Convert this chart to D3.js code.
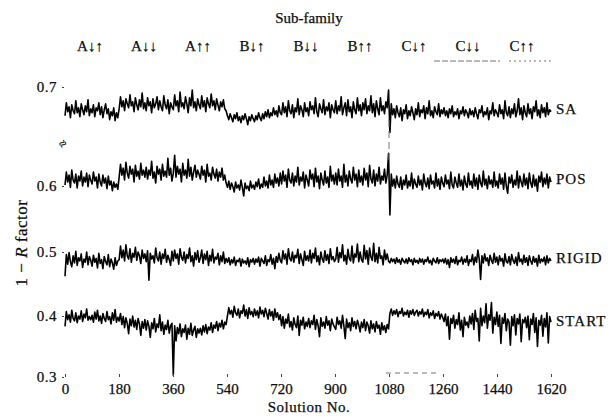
<!DOCTYPE html>
<html><head><meta charset="utf-8">
<script src="https://cdn.jsdelivr.net/npm/d3@7"></script>
<style>
body{margin:0;background:#fff}
svg{display:block}
text{font-family:"Liberation Serif","Times New Roman",serif;fill:#0d0d0d;stroke:#0d0d0d;stroke-width:0.25}
</style></head>
<body><svg id="chart" width="612" height="418"></svg>
<script>
const subFamilies = ["A↓↑","A↓↓","A↑↑","B↓↑","B↓↓","B↑↑","C↓↑","C↓↓","C↑↑"];
const xTicks = [0,180,360,540,720,900,1080,1260,1440,1620];
const yTicks = [0.3,0.4,0.5,0.6,0.7];
const seriesNames = ["SA","POS","RIGID","START"];

const saValues = [
0.671,0.684,0.675,0.680,0.669,0.682,0.676,0.673,0.686,0.674,0.679,0.670,0.683,0.677,0.672,0.681,0.675,0.687,0.671,0.678,
0.674,0.682,0.670,0.679,0.676,0.684,0.672,0.680,0.669,0.677,0.683,0.673,0.678,0.667,0.675,0.671,0.679,0.666,0.674,0.669,
0.678,0.690,0.680,0.686,0.676,0.688,0.683,0.679,0.692,0.681,0.685,0.675,0.689,0.682,0.677,0.687,0.680,0.694,0.678,0.684,
0.676,0.689,0.681,0.685,0.674,0.688,0.679,0.683,0.690,0.677,0.686,0.680,0.676,0.691,0.682,0.678,0.687,0.673,0.684,0.680,
0.677,0.692,0.681,0.686,0.675,0.695,0.680,0.684,0.678,0.690,0.683,0.674,0.689,0.681,0.697,0.679,0.685,0.676,0.688,0.682,
0.678,0.691,0.680,0.686,0.675,0.689,0.683,0.679,0.693,0.681,0.686,0.677,0.688,0.682,0.676,0.685,0.680,0.687,0.678,0.676,
0.671,0.667,0.673,0.669,0.665,0.672,0.668,0.674,0.666,0.670,0.664,0.671,0.667,0.673,0.668,0.662,0.670,0.666,0.672,0.668,
0.665,0.671,0.667,0.674,0.669,0.666,0.673,0.668,0.675,0.670,0.677,0.669,0.674,0.671,0.679,0.672,0.676,0.670,0.681,0.674,
0.672,0.684,0.674,0.680,0.670,0.686,0.676,0.673,0.682,0.669,0.679,0.675,0.688,0.672,0.681,0.677,0.670,0.684,0.675,0.679,
0.671,0.685,0.677,0.681,0.673,0.689,0.675,0.670,0.683,0.678,0.674,0.687,0.672,0.680,0.676,0.684,0.669,0.682,0.677,0.674,
0.686,0.673,0.681,0.676,0.690,0.672,0.679,0.684,0.671,0.687,0.675,0.680,0.669,0.685,0.677,0.673,0.689,0.676,0.682,0.671,
0.684,0.677,0.688,0.673,0.681,0.676,0.691,0.674,0.683,0.670,0.686,0.678,0.672,0.689,0.676,0.681,0.673,0.685,0.679,0.697,
0.654,0.683,0.672,0.678,0.669,0.681,0.674,0.670,0.679,0.666,0.677,0.673,0.682,0.668,0.676,0.671,0.680,0.674,0.667,0.678,
0.672,0.684,0.670,0.677,0.674,0.681,0.668,0.679,0.673,0.686,0.671,0.676,0.669,0.680,0.675,0.672,0.683,0.670,0.677,0.673,
0.679,0.671,0.676,0.669,0.678,0.673,0.681,0.670,0.675,0.672,0.678,0.668,0.676,0.673,0.680,0.671,0.677,0.674,0.669,0.678,
0.672,0.676,0.670,0.679,0.673,0.668,0.677,0.674,0.681,0.670,0.675,0.672,0.679,0.667,0.676,0.673,0.684,0.671,0.677,0.674,
0.670,0.682,0.673,0.677,0.668,0.686,0.674,0.671,0.680,0.669,0.678,0.673,0.683,0.670,0.676,0.688,0.672,0.679,0.667,0.681,
0.674,0.670,0.683,0.673,0.678,0.668,0.680,0.675,0.686,0.671,0.677,0.669,0.682,0.674,0.679,0.670,0.684,0.672,0.677,0.675];

const posValues = [
0.601,0.614,0.604,0.611,0.598,0.616,0.606,0.603,0.612,0.597,0.610,0.605,0.615,0.600,0.609,0.604,0.613,0.599,0.611,0.606,
0.602,0.614,0.605,0.609,0.597,0.612,0.604,0.600,0.611,0.603,0.608,0.596,0.610,0.601,0.605,0.593,0.604,0.598,0.602,0.595,
0.609,0.622,0.611,0.618,0.606,0.624,0.613,0.608,0.620,0.612,0.617,0.604,0.621,0.610,0.615,0.607,0.623,0.611,0.616,0.609,
0.619,0.607,0.616,0.611,0.625,0.608,0.614,0.603,0.620,0.612,0.617,0.606,0.622,0.610,0.615,0.609,0.628,0.611,0.618,0.605,
0.613,0.631,0.609,0.620,0.612,0.617,0.604,0.623,0.611,0.616,0.608,0.627,0.610,0.619,0.606,0.614,0.621,0.609,0.616,0.612,
0.607,0.620,0.611,0.616,0.604,0.622,0.610,0.613,0.606,0.619,0.612,0.608,0.617,0.605,0.614,0.609,0.618,0.606,0.611,0.603,
0.598,0.605,0.595,0.603,0.599,0.591,0.604,0.597,0.601,0.594,0.606,0.598,0.585,0.603,0.596,0.600,0.593,0.605,0.597,0.601,
0.595,0.604,0.599,0.607,0.596,0.602,0.598,0.609,0.600,0.605,0.597,0.611,0.601,0.606,0.598,0.612,0.603,0.608,0.600,0.613,
0.602,0.615,0.605,0.611,0.598,0.617,0.606,0.603,0.613,0.600,0.610,0.604,0.619,0.601,0.609,0.605,0.614,0.597,0.611,0.606,
0.600,0.616,0.607,0.612,0.599,0.618,0.604,0.610,0.596,0.613,0.606,0.601,0.615,0.603,0.609,0.598,0.620,0.605,0.611,0.602,
0.613,0.601,0.617,0.605,0.610,0.598,0.622,0.604,0.611,0.600,0.615,0.607,0.603,0.619,0.606,0.612,0.599,0.616,0.604,0.610,
0.601,0.618,0.606,0.613,0.599,0.621,0.607,0.603,0.616,0.600,0.612,0.605,0.619,0.602,0.610,0.606,0.617,0.603,0.611,0.633,
0.556,0.612,0.600,0.607,0.597,0.610,0.602,0.598,0.609,0.595,0.606,0.601,0.611,0.597,0.605,0.600,0.613,0.596,0.607,0.602,
0.598,0.610,0.601,0.606,0.594,0.612,0.603,0.599,0.608,0.596,0.611,0.602,0.605,0.597,0.613,0.600,0.607,0.595,0.609,0.603,
0.599,0.611,0.602,0.606,0.596,0.614,0.601,0.597,0.609,0.603,0.598,0.612,0.600,0.606,0.594,0.610,0.602,0.598,0.613,0.601,
0.605,0.597,0.612,0.600,0.608,0.595,0.611,0.603,0.599,0.615,0.601,0.607,0.596,0.610,0.602,0.606,0.598,0.614,0.600,0.605,
0.597,0.612,0.602,0.608,0.595,0.613,0.600,0.589,0.609,0.603,0.611,0.598,0.606,0.601,0.615,0.597,0.610,0.604,0.599,0.612,
0.601,0.608,0.596,0.613,0.603,0.598,0.611,0.600,0.607,0.592,0.610,0.604,0.614,0.599,0.608,0.602,0.612,0.597,0.609,0.604];

const rigidValues = [
0.462,0.496,0.481,0.499,0.485,0.477,0.494,0.483,0.501,0.479,0.491,0.486,0.497,0.476,0.489,0.484,0.500,0.480,0.493,0.487,
0.478,0.495,0.484,0.490,0.475,0.498,0.482,0.488,0.474,0.493,0.485,0.480,0.496,0.477,0.489,0.483,0.473,0.491,0.479,0.486,
0.488,0.509,0.491,0.503,0.486,0.511,0.494,0.489,0.505,0.484,0.498,0.492,0.507,0.487,0.500,0.494,0.482,0.503,0.490,0.497,
0.485,0.502,0.456,0.498,0.489,0.494,0.483,0.506,0.491,0.486,0.500,0.481,0.497,0.490,0.504,0.484,0.495,0.488,0.479,0.501,
0.486,0.503,0.490,0.497,0.481,0.505,0.492,0.487,0.500,0.483,0.496,0.490,0.506,0.485,0.494,0.478,0.499,0.488,0.502,0.484,
0.491,0.503,0.482,0.497,0.488,0.501,0.479,0.495,0.486,0.504,0.483,0.492,0.489,0.498,0.480,0.494,0.485,0.500,0.482,0.490,
0.484,0.491,0.480,0.488,0.483,0.492,0.479,0.487,0.485,0.490,0.478,0.489,0.483,0.486,0.481,0.491,0.477,0.488,0.484,0.490,
0.481,0.489,0.484,0.492,0.478,0.490,0.486,0.482,0.494,0.479,0.488,0.485,0.496,0.481,0.490,0.474,0.493,0.484,0.498,0.487,
0.483,0.502,0.489,0.497,0.481,0.505,0.490,0.486,0.500,0.484,0.495,0.491,0.504,0.482,0.497,0.488,0.479,0.501,0.487,0.494,
0.486,0.503,0.483,0.498,0.490,0.506,0.485,0.494,0.480,0.500,0.489,0.484,0.502,0.487,0.496,0.482,0.505,0.488,0.493,0.485,
0.489,0.507,0.484,0.499,0.491,0.511,0.486,0.495,0.481,0.504,0.490,0.486,0.509,0.483,0.497,0.492,0.512,0.485,0.500,0.488,
0.484,0.510,0.489,0.502,0.481,0.506,0.492,0.487,0.513,0.485,0.498,0.483,0.507,0.490,0.494,0.480,0.503,0.488,0.497,0.486,
0.483,0.490,0.485,0.489,0.482,0.491,0.484,0.488,0.481,0.490,0.486,0.483,0.489,0.482,0.491,0.485,0.488,0.480,0.490,0.484,
0.487,0.482,0.490,0.484,0.489,0.481,0.488,0.485,0.492,0.483,0.487,0.480,0.490,0.486,0.483,0.491,0.482,0.488,0.485,0.489,
0.483,0.490,0.481,0.488,0.476,0.491,0.484,0.489,0.482,0.493,0.480,0.487,0.485,0.492,0.481,0.489,0.484,0.494,0.479,0.488,
0.485,0.496,0.480,0.492,0.484,0.503,0.489,0.457,0.494,0.483,0.497,0.486,0.491,0.479,0.495,0.487,0.482,0.498,0.484,0.492,
0.480,0.494,0.486,0.490,0.478,0.497,0.485,0.483,0.493,0.480,0.496,0.487,0.482,0.492,0.479,0.499,0.485,0.489,0.481,0.495,
0.484,0.491,0.479,0.494,0.486,0.481,0.493,0.484,0.490,0.478,0.495,0.483,0.489,0.485,0.492,0.480,0.494,0.483,0.490,0.486];

const startValues = [
0.383,0.407,0.394,0.402,0.390,0.409,0.396,0.392,0.405,0.389,0.400,0.395,0.408,0.391,0.403,0.397,0.411,0.393,0.399,0.394,
0.401,0.390,0.406,0.395,0.409,0.392,0.400,0.388,0.404,0.396,0.391,0.407,0.394,0.399,0.387,0.405,0.393,0.410,0.390,0.398,
0.392,0.404,0.386,0.399,0.381,0.397,0.388,0.371,0.395,0.384,0.400,0.382,0.393,0.378,0.396,0.387,0.368,0.391,0.380,0.394,
0.377,0.392,0.383,0.365,0.389,0.379,0.396,0.374,0.387,0.381,0.402,0.376,0.390,0.370,0.385,0.378,0.393,0.372,0.384,0.388,
0.303,0.384,0.359,0.381,0.371,0.387,0.366,0.379,0.373,0.385,0.362,0.380,0.370,0.388,0.368,0.377,0.383,0.365,0.379,0.372,
0.380,0.369,0.384,0.374,0.386,0.371,0.382,0.377,0.389,0.373,0.385,0.380,0.391,0.376,0.388,0.382,0.393,0.379,0.390,0.386,
0.400,0.413,0.403,0.409,0.398,0.415,0.405,0.401,0.411,0.397,0.408,0.404,0.417,0.400,0.410,0.396,0.413,0.402,0.407,0.399,
0.411,0.401,0.408,0.397,0.414,0.403,0.409,0.399,0.412,0.404,0.395,0.410,0.400,0.407,0.393,0.411,0.398,0.405,0.394,0.402,
0.384,0.399,0.380,0.395,0.388,0.403,0.382,0.391,0.377,0.397,0.386,0.381,0.400,0.368,0.393,0.385,0.398,0.379,0.390,0.383,
0.396,0.381,0.392,0.386,0.401,0.378,0.394,0.384,0.366,0.397,0.383,0.390,0.380,0.399,0.385,0.392,0.376,0.395,0.387,0.382,
0.378,0.398,0.386,0.392,0.380,0.401,0.384,0.363,0.395,0.381,0.389,0.376,0.397,0.383,0.391,0.379,0.393,0.385,0.374,0.390,
0.381,0.394,0.376,0.390,0.384,0.372,0.392,0.379,0.387,0.374,0.391,0.380,0.385,0.370,0.389,0.377,0.384,0.373,0.386,0.379,
0.404,0.411,0.401,0.408,0.403,0.410,0.399,0.407,0.404,0.412,0.400,0.406,0.402,0.409,0.398,0.408,0.403,0.410,0.401,0.406,
0.409,0.400,0.407,0.403,0.411,0.399,0.406,0.402,0.410,0.397,0.405,0.401,0.408,0.396,0.404,0.400,0.407,0.395,0.403,0.398,
0.391,0.403,0.384,0.399,0.362,0.396,0.388,0.401,0.380,0.394,0.386,0.405,0.377,0.393,0.366,0.398,0.385,0.390,0.381,0.400,
0.387,0.404,0.378,0.409,0.391,0.396,0.359,0.412,0.384,0.400,0.389,0.419,0.380,0.402,0.393,0.421,0.372,0.398,0.386,0.406,
0.383,0.401,0.355,0.397,0.388,0.404,0.376,0.395,0.390,0.352,0.399,0.384,0.402,0.369,0.396,0.387,0.403,0.358,0.394,0.389,
0.398,0.381,0.400,0.361,0.395,0.386,0.404,0.373,0.397,0.350,0.393,0.385,0.401,0.367,0.396,0.382,0.405,0.356,0.399,0.390];

const seriesValues = [saValues, posValues, rigidValues, startValues];

const svg = d3.select("#chart");
const x = d3.scaleLinear().domain([0,1620]).range([65,551]);
// broken axis: 0.7 sits above a break, so the scale is piecewise
const y = d3.scaleLinear().domain([0.3,0.4,0.5,0.6,0.7]).range([377,316,252,186,87]);

const line = d3.line()
  .x((d,i,arr) => x(i * 1620 / (arr.length - 1)))
  .y(d => y(d));

svg.append("g").selectAll("path").data(seriesValues).join("path")
  .attr("d", d => line(d))
  .attr("fill","none").attr("stroke","#000").attr("stroke-width",1.6)
  .attr("stroke-linejoin","round");

// series labels
svg.append("g").selectAll("text").data(seriesNames).join("text")
  .attr("x", x(1620) + 5)
  .attr("y", (d,i) => y(d3.mean(seriesValues[i])))
  .attr("dy","0.3em")
  .attr("font-size",15).attr("letter-spacing",1)
  .text(d => d);

// y axis
const yAxis = svg.append("g").attr("transform","translate(64,0)")
  .call(d3.axisLeft(y).tickValues(yTicks).tickFormat(d3.format(".1f")).tickSize(2).tickPadding(5));
yAxis.select(".domain").remove();
yAxis.selectAll("text").attr("font-size",15).attr("font-family","Liberation Serif").attr("letter-spacing",0.5);
yAxis.selectAll("line").attr("stroke","#444");

// x axis
const xAxis = svg.append("g").attr("transform","translate(0,377)")
  .call(d3.axisBottom(x).tickValues(xTicks).tickFormat(d3.format("d")).tickSize(-3).tickPadding(6));
xAxis.select(".domain").remove();
xAxis.selectAll("text").attr("font-size",15).attr("font-family","Liberation Serif");
xAxis.selectAll("line").attr("stroke","#444");

// axis break mark
svg.append("text").attr("x",63).attr("y",148).attr("text-anchor","middle")
  .attr("font-size",13).attr("transform","rotate(-40,63,144)").text("≈");

// titles
svg.append("text").attr("x",309).attr("y",412).attr("text-anchor","middle")
  .attr("font-size",15).attr("letter-spacing",0.5).text("Solution No.");
svg.append("text").attr("x",309).attr("y",23).attr("text-anchor","middle")
  .attr("font-size",15).text("Sub-family");
svg.append("g").selectAll("text").data(subFamilies).join("text")
  .attr("x",(d,i) => x(i*180 + 90) - 2)
  .attr("y",51).attr("text-anchor","middle").attr("font-size",15)
  .text(d => d);

const yt = svg.append("text").attr("transform","translate(27,243) rotate(-90)")
  .attr("text-anchor","middle").attr("font-size",17).attr("letter-spacing",0.5);
yt.append("tspan").text("1 − ");
yt.append("tspan").attr("font-style","italic").text("R");
yt.append("tspan").text(" factor");

// faint dashed remnants around the C sub-family and at solution 1080
const dash = svg.append("g").attr("stroke","#777").attr("stroke-width",1).attr("fill","none");
dash.append("line").attr("x1",x(1080)).attr("x2",x(1080)).attr("y1",120).attr("y2",160)
  .attr("stroke-dasharray","7,4");
dash.append("line").attr("x1",x(1230)).attr("x2",x(1450)).attr("y1",61).attr("y2",61)
  .attr("stroke-dasharray","6,2");
dash.append("line").attr("x1",x(1480)).attr("x2",x(1620)).attr("y1",61).attr("y2",61)
  .attr("stroke-dasharray","2,3");
dash.append("line").attr("x1",x(1070)).attr("x2",x(1245)).attr("y1",373).attr("y2",373)
  .attr("stroke-dasharray","5,4");
</script></body></html>
